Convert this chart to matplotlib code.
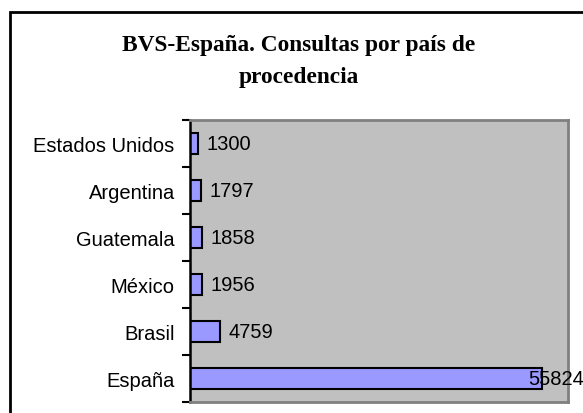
import matplotlib
matplotlib.use("Agg")
import matplotlib.pyplot as plt
from matplotlib.patches import Rectangle
import numpy as np

# data (bottom to top)
countries = ["España", "Brasil", "México", "Guatemala", "Argentina", "Estados Unidos"]
consultas = [55824, 4759, 1956, 1858, 1797, 1300]
title_lines = ["BVS-España. Consultas por país de", "procedencia"]

W, H = 583, 414
fig = plt.figure(figsize=(W / 100, H / 100), dpi=100)
fig.patch.set_facecolor("white")

# outer chart frame (runs off the right/bottom edge like the reference)
fig.patches.append(Rectangle((10 / W, -0.05), 1.1, 1 - 12.5 / H + 0.05,
                             transform=fig.transFigure, fill=False,
                             edgecolor="black", linewidth=2))

ax = fig.add_axes([190 / W, 1 - 402.7 / H, (568 - 190) / W, (402.7 - 121) / H])
ax.set_facecolor("#C0C0C0")

y = np.arange(len(countries))
ax.barh(y, consultas, height=0.44, color="#9999FF", edgecolor="black", linewidth=1.5)

ax.set_xlim(0, 60000)
ax.set_ylim(-0.5, len(countries) - 0.5)

# value labels
for yi, v in zip(y, consultas):
    off = -10 if v > 50000 else 6
    ax.annotate(str(v), (v, yi), xytext=(off, 0), textcoords="offset points",
                ha="left", va="center", fontsize=14.5, family="Liberation Sans")

ax.set_yticks(y)
ax.set_yticklabels(countries, fontsize=14.5, family="Liberation Sans")
ax.set_yticks(np.arange(-0.5, len(countries)), minor=True)
ax.tick_params(axis="y", which="major", length=0, pad=11)
ax.tick_params(axis="y", which="minor", length=6, width=1.5, direction="out", color="black")
ax.set_xticks([])

for s in ["top", "right", "bottom"]:
    ax.spines[s].set_color("#808080")
    ax.spines[s].set_linewidth(2)
ax.spines["left"].set_color("black")
ax.spines["left"].set_linewidth(1.8)

for line, base in zip(title_lines, [51, 83.3]):
    fig.text(299 / W, 1 - base / H, line, ha="center", va="baseline", fontsize=16.8,
             fontweight="bold", family="Liberation Serif")

fig.savefig("out.png", dpi=100)
